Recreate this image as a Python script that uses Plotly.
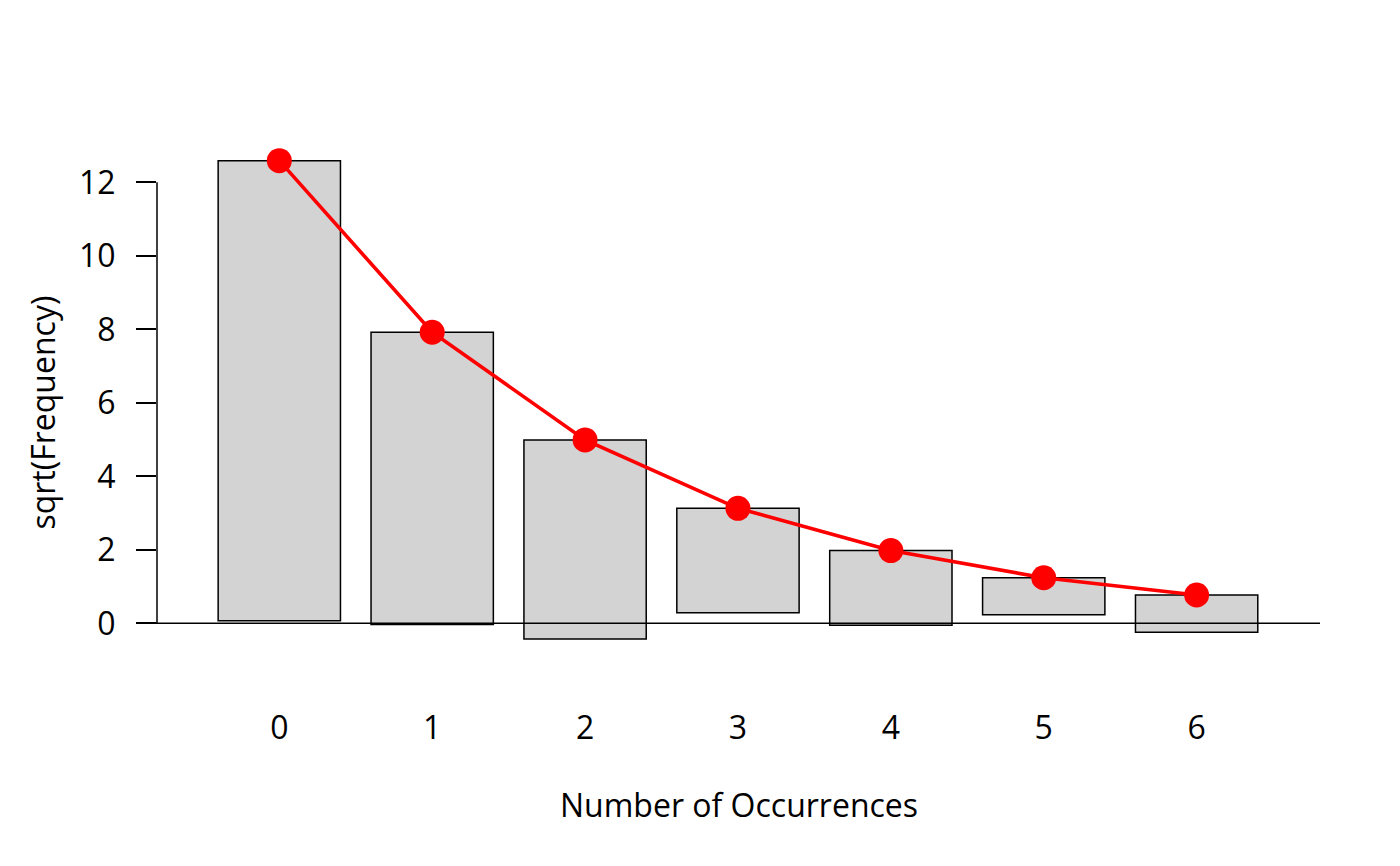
import plotly.graph_objects as go

categories = [0, 1, 2, 3, 4, 5, 6]
expected_sqrt = [12.59, 7.92, 4.99, 3.13, 1.98, 1.24, 0.77]
observed_sqrt = [12.52, 7.95, 5.42, 2.84, 2.03, 1.01, 1.01]
y_ticks = [0, 2, 4, 6, 8, 10, 12]

base = [e - o for e, o in zip(expected_sqrt, observed_sqrt)]

FONT = "Open Sans"
FS = 32
fig = go.Figure()
fig.add_trace(go.Bar(
    x=categories, y=observed_sqrt, base=base, width=0.8,
    marker=dict(color="#D3D3D3", line=dict(color="black", width=1.5)),
    showlegend=False,
))
fig.add_trace(go.Scatter(
    x=categories, y=expected_sqrt, mode="lines+markers",
    line=dict(color="#FF0000", width=3.6),
    marker=dict(color="#FF0000", size=25),
    showlegend=False,
))

# zero reference line
fig.add_shape(type="line", xref="paper", yref="y", x0=-0.0172, x1=1.0, y0=0, y1=0,
              line=dict(color="black", width=1.5))
# y axis line spanning tick range
fig.add_shape(type="line", xref="paper", yref="y", x0=0, x1=0, y0=min(y_ticks), y1=max(y_ticks),
              line=dict(color="black", width=1.5))

fig.update_layout(
    width=1392, height=858,
    margin=dict(l=149, r=80, t=92, b=160),
    paper_bgcolor="white", plot_bgcolor="white",
    font=dict(family=FONT, size=FS, color="black"),
    xaxis=dict(range=[-0.80, 6.807], tickmode="array", tickvals=categories,
               ticktext=[str(c) for c in categories], showgrid=False, zeroline=False,
               showline=False, ticks="outside", ticklen=6, tickcolor="rgba(0,0,0,0)",
               ticklabelstandoff=-12),
    yaxis=dict(range=[-2.25, 14.24], tickmode="array", tickvals=y_ticks,
               ticktext=[str(t) for t in y_ticks], showgrid=False, zeroline=False,
               showline=False, ticks="outside", ticklen=20, tickwidth=1.5, tickcolor="black",
               ticklabelstandoff=14),
    annotations=[
        dict(text="Number of Occurrences", xref="paper", yref="paper", x=0.5, y=-0.162,
             xanchor="center", yanchor="middle", showarrow=False, font=dict(size=FS)),
        dict(text="sqrt(Frequency)", xref="paper", yref="paper", x=-0.0985, y=0.485,
             xanchor="center", yanchor="middle", textangle=-90, showarrow=False,
             font=dict(size=FS)),
    ],
)
fig.write_html("out.html")
